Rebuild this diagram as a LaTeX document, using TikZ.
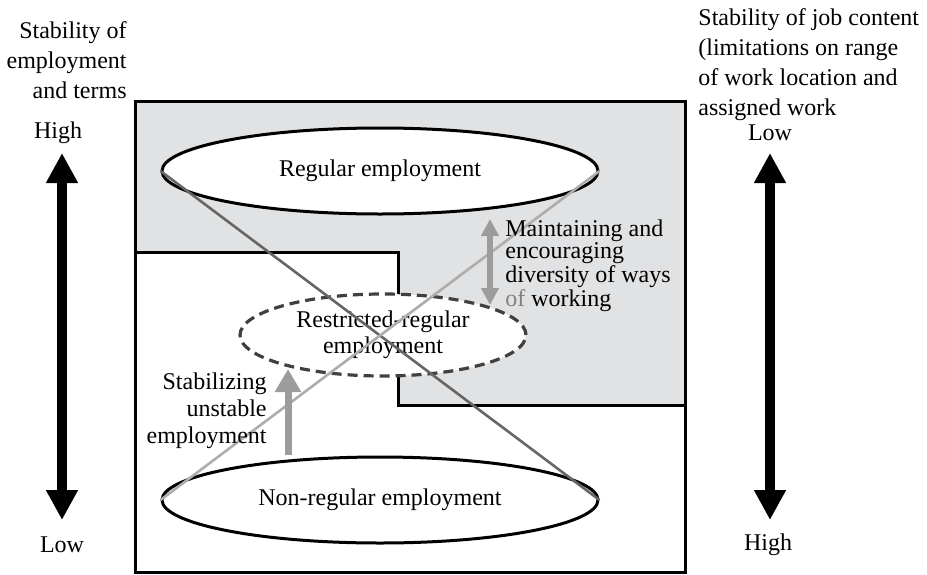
\documentclass[tikz,border=0pt]{standalone}
\usepackage{fontspec}
\setmainfont{Liberation Serif}
\usetikzlibrary{positioning,shapes.geometric,arrows.meta}

\definecolor{panelgray}{HTML}{E1E2E4}
\definecolor{arrowgray}{HTML}{9C9C9C}
\definecolor{darkline}{HTML}{666666}
\definecolor{lightline}{HTML}{ADADAD}
\definecolor{dashgray}{HTML}{404040}

\begin{document}
\begin{tikzpicture}[x=0.5pt, y=-0.5pt,
  frame/.style={draw=black, line width=1.5pt},
  group/.style={draw=black, fill=white, ellipse, line width=1.5pt, inner sep=0pt,
    minimum width=218pt, minimum height=43pt, font=\fontsize{12}{14}\selectfont},
  midgroup/.style={draw=dashgray, fill=white, ellipse, line width=1.6pt, dash pattern=on 5pt off 3pt,
    inner sep=0pt, minimum width=143pt, minimum height=41pt, align=center,
    font=\fontsize{12}{14}\selectfont},
  axislabel/.style={font=\fontsize{12}{15}\selectfont, inner sep=0pt},
  note/.style={font=\fontsize{12}{13.5}\selectfont, inner sep=0pt},
  axisarrow/.style={line width=5pt, {Triangle[length=15pt,width=15pt]}-{Triangle[length=15pt,width=15pt]}},
  shiftarrow/.style={arrowgray, line width=3.5pt, -{Triangle[length=11.5pt,width=12.5pt]}},
  bothways/.style={arrowgray, line width=3pt, {Triangle[length=8.5pt,width=8.5pt]}-{Triangle[length=8.5pt,width=8.5pt]}}
]
  \useasboundingbox (0,0) rectangle (927,574);

  % shaded band (stable job content) and its step outline
  \fill[panelgray] (135,101) -- (685,101) -- (685,405) -- (398,405) -- (398,252) -- (135,252) -- cycle;
  \draw[frame] (135,252) -| (398,405) -- (685,405);
  \draw[frame] (135,101) rectangle (685,572);

  \node[group] (regular) at (380,171) {Regular employment};
  \node[group] (nonregular) at (380,500) {Non-regular employment};
  \node[midgroup] (restricted) at (383,335) {Restricted-regular\\[-1pt]employment};

  % crossing lines
  \draw[darkline, line width=1.3pt] (regular.west) -- (nonregular.east);
  \draw[lightline, line width=1.3pt] (nonregular.west) -- (regular.east);

  % left axis
  \node[axislabel, anchor=east, align=right] (empstab) at (127,60) {Stability of\\employment\\and terms};
  \node[axislabel] (lefthigh) at (58,133) {High};
  \node[axislabel] (leftlow) at (62,545) {Low};
  \coordinate (lefttop) at (62,153);
  \coordinate (leftbot) at (62,520);
  \draw[axisarrow] (lefttop) -- (leftbot);

  % right axis
  \node[axislabel, anchor=west, align=left] (jobstab) at (698,65) {Stability of job content\\(limitations on range\\of work location and\\assigned work};
  \node[axislabel] (rightlow) at (770,133) {Low};
  \node[axislabel] (righthigh) at (768,545) {High};
  \coordinate (righttop) at (770,153);
  \coordinate (rightbot) at (770,520);
  \draw[axisarrow] (righttop) -- (rightbot);

  % gray arrows between the groups
  \coordinate (upfrom) at (288,455);
  \coordinate (upto) at (288,369);
  \draw[shiftarrow] (upfrom) -- (upto);
  \node[note, anchor=east, align=right] (stabilize) at (267,411) {Stabilizing\\unstable\\employment};

  \coordinate (divtop) at (490,219);
  \coordinate (divbot) at (490,305);
  \draw[bothways] (divtop) -- (divbot);
  \node[note, anchor=west, align=left, font=\fontsize{12}{11}\selectfont] (diversity) at (505,266)
    {Maintaining and\\encouraging\\diversity of ways\\{\color{gray}of} working};

\end{tikzpicture}
\end{document}
